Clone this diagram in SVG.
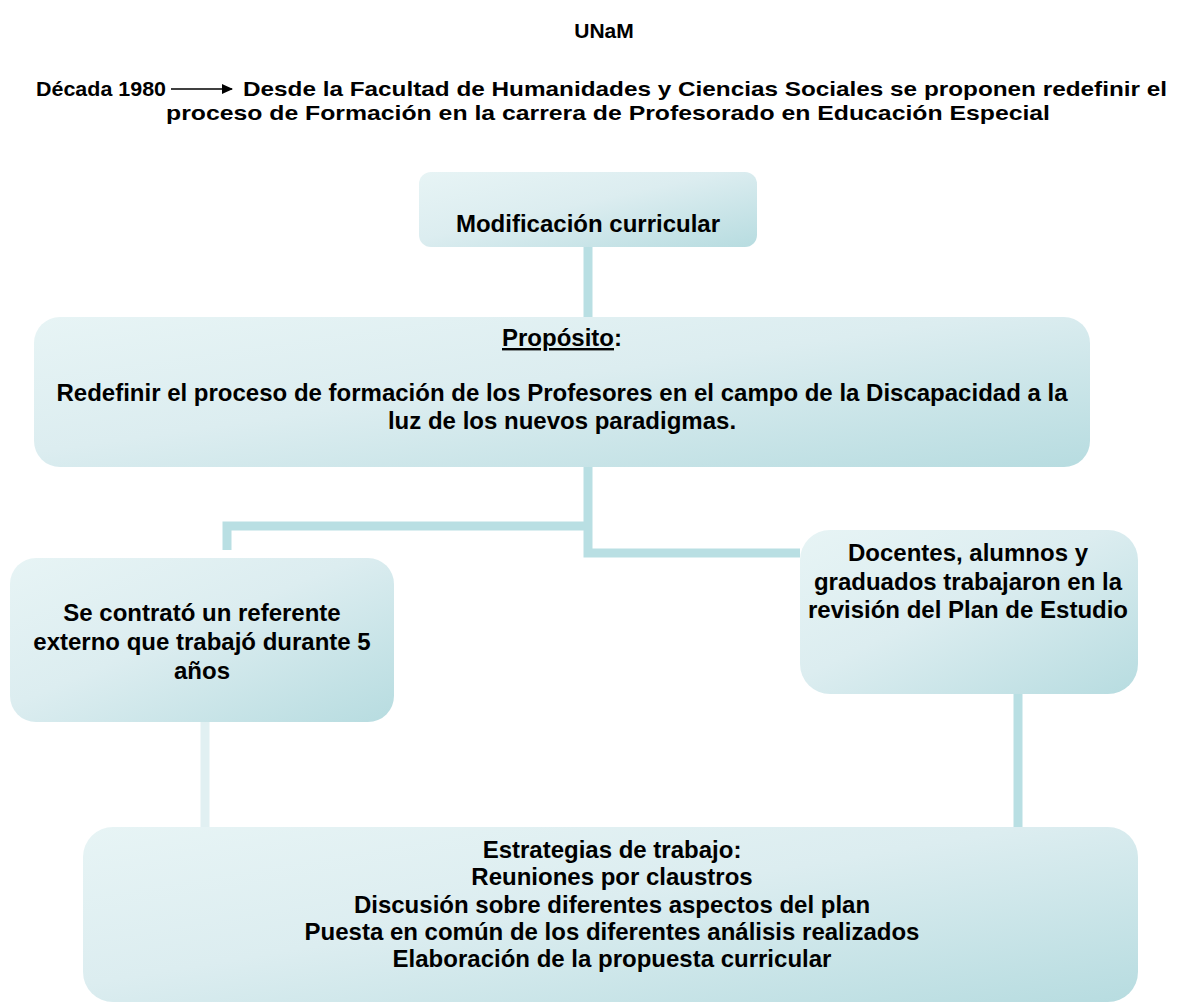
<svg xmlns="http://www.w3.org/2000/svg" width="1192" height="1006" viewBox="0 0 1192 1006">
<defs>
<linearGradient id="g" x1="0" y1="0" x2="1" y2="1">
<stop offset="0" stop-color="#e7f4f5"/>
<stop offset="0.45" stop-color="#dcedf0"/>
<stop offset="1" stop-color="#b7dce0"/>
</linearGradient>
<marker id="ah" markerWidth="11" markerHeight="10" refX="10" refY="5" orient="auto" markerUnits="userSpaceOnUse">
<path d="M0,0 L11,5 L0,10 z" fill="#000"/>
</marker>
<style>
text{font-family:"Liberation Sans",Arial,sans-serif;font-weight:bold;fill:#000}
.h{font-size:21px}
.b{font-size:24px;text-anchor:middle}
.box{fill:url(#g)}
.c{fill:none;stroke:#b9dfe3;stroke-width:9}
.cl{fill:none;stroke:#e1f0f2;stroke-width:9}
</style>
</defs>
<rect width="1192" height="1006" fill="#fff"/>
<g id="header">
<text x="604" y="38" class="h" text-anchor="middle">UNaM</text>
<text x="36" y="96" class="h" textLength="130" lengthAdjust="spacingAndGlyphs">Década 1980</text>
<line x1="171" y1="89" x2="232" y2="89" stroke="#000" stroke-width="1.5" marker-end="url(#ah)"/>
<text x="243" y="96" class="h" textLength="924" lengthAdjust="spacingAndGlyphs">Desde la Facultad de Humanidades y Ciencias Sociales se proponen redefinir el</text>
<text x="166" y="120" class="h" textLength="884" lengthAdjust="spacingAndGlyphs">proceso de Formación en la carrera de Profesorado en Educación Especial</text>
</g>
<g id="connectors">
<line class="c" x1="588" y1="247" x2="588" y2="317"/>
<polyline class="c" points="227,550 227,526 588,526"/>
<polyline class="c" points="588,467 588,553 800,553"/>
<line class="cl" x1="205" y1="722" x2="205" y2="827"/>
<line class="c" x1="1018" y1="694" x2="1018" y2="827"/>
</g>
<g id="n-modificacion">
<rect class="box" x="419" y="172" width="338" height="75" rx="12"/>
<text x="588" y="232" class="b">Modificación curricular</text>
</g>
<g id="n-proposito">
<rect class="box" x="34" y="317" width="1056" height="150" rx="26"/>
<text x="562" y="346" class="b"><tspan text-decoration="underline">Propósito</tspan>:</text>
<text x="562" y="401" class="b">Redefinir el proceso de formación de los Profesores en el campo de la Discapacidad a la</text>
<text x="562" y="429" class="b">luz de los nuevos paradigmas.</text>
</g>
<g id="n-referente">
<rect class="box" x="10" y="558" width="384" height="164" rx="26"/>
<text x="202" y="621" class="b">Se contrató un referente</text>
<text x="202" y="650" class="b">externo que trabajó durante 5</text>
<text x="202" y="679" class="b">años</text>
</g>
<g id="n-docentes">
<rect class="box" x="800" y="530" width="338" height="164" rx="30"/>
<text x="968" y="561" class="b">Docentes, alumnos y</text>
<text x="968" y="590" class="b">graduados trabajaron en la</text>
<text x="968" y="618" class="b">revisión del Plan de Estudio</text>
</g>
<g id="n-estrategias">
<rect class="box" x="83" y="827" width="1055" height="175" rx="30"/>
<text x="612" y="858" class="b">Estrategias de trabajo:</text>
<text x="612" y="885" class="b">Reuniones por claustros</text>
<text x="612" y="913" class="b">Discusión sobre diferentes aspectos del plan</text>
<text x="612" y="940" class="b">Puesta en común de los diferentes análisis realizados</text>
<text x="612" y="967" class="b">Elaboración de la propuesta curricular</text>
</g>
</svg>
